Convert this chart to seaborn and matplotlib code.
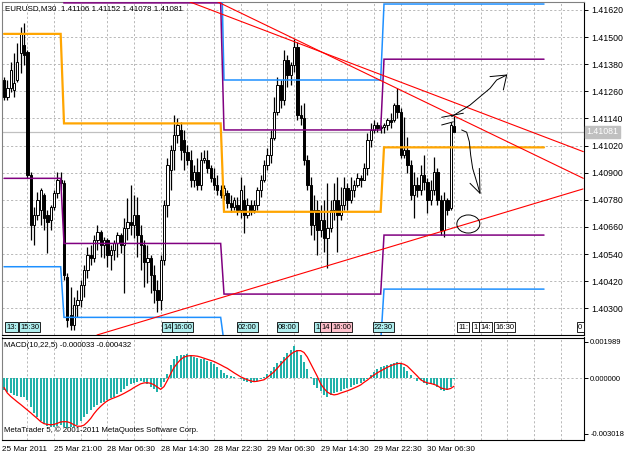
import numpy as np
import matplotlib
matplotlib.use("Agg")
import matplotlib.pyplot as plt
import matplotlib.transforms as mtransforms
from matplotlib.patches import Ellipse
import seaborn as sns

# ---------------- data ----------------
# EURUSD M30 candles, prices given in points above 1.40000 (5-digit quotes)
bar_index = list(range(136))
open_pts = [1310,1235,1275,1266,1310,1429,1465,1434,890,668,
            713,735,801,713,690,748,810,868,854,438,
            270,226,314,337,403,469,536,522,602,637,
            580,602,536,558,589,624,580,655,682,668,
            713,624,580,505,522,447,381,337,513,757,
            912,1000,1067,1089,1045,991,956,868,903,845,
            956,956,921,876,845,823,801,810,766,748,
            757,735,779,713,757,735,757,823,868,934,
            978,1053,1168,1288,1222,1399,1332,1376,1456,1155,
            1142,956,845,668,735,646,690,611,655,735,
            779,713,757,832,779,823,845,876,868,921,
            1045,1089,1111,1098,1102,1111,1133,1133,1199,1168,
            978,1000,934,801,845,823,890,859,779,823,
            903,779,646,779,744,1106]
high_pts = [1323,1310,1390,1429,1474,1545,1562,1443,903,748,
            814,832,810,735,757,823,903,903,868,456,
            394,350,381,425,491,571,580,624,668,646,
            615,611,580,602,637,633,699,788,845,801,
            792,668,602,580,536,491,425,536,779,965,
            1022,1155,1142,1124,1089,1022,1000,934,965,991,
            1000,1000,934,921,890,845,845,823,801,792,
            792,881,845,788,779,779,836,890,956,1009,
            1089,1235,1323,1310,1443,1421,1390,1491,1478,1199,
            1208,978,881,801,779,757,779,854,779,854,
            881,836,881,854,881,868,898,890,943,1076,
            1120,1133,1124,1111,1120,1142,1164,1208,1275,1186,
            1146,1058,956,903,881,934,978,876,868,969,
            921,801,814,788,1124,1152]
low_pts = [1222,1222,1257,1235,1301,1341,1376,876,602,580,
           690,668,646,545,646,735,788,823,425,217,
           204,204,261,306,350,434,491,505,558,527,
           522,482,469,513,527,545,367,602,624,611,
           527,469,394,412,367,323,283,292,491,704,
           823,912,1031,956,912,934,836,836,823,823,
           943,898,859,823,801,788,779,744,726,735,
           713,699,633,699,713,722,735,792,859,912,
           943,1045,1155,1186,1199,1279,1288,1345,1133,1111,
           934,823,624,602,536,615,549,478,637,690,
           549,690,735,735,766,792,836,836,868,890,
           1014,1076,1080,1076,1076,1089,1098,1124,1142,965,
           965,898,779,699,792,801,823,722,757,801,
           757,624,615,713,735,1078]
close_pts = [1235,1275,1354,1297,1390,1518,1421,890,668,713,
             779,823,699,682,748,810,868,854,447,248,
             226,314,337,403,469,536,522,602,637,580,
             602,536,558,589,624,580,655,682,668,713,
             624,580,505,522,447,381,337,513,757,934,
             1000,1067,1111,1000,991,956,868,903,845,956,
             965,921,876,845,823,801,832,766,748,779,
             735,823,713,757,735,757,823,868,934,978,
             1053,1168,1288,1222,1399,1332,1376,1456,1155,1142,
             956,845,668,735,646,690,611,655,735,779,
             713,757,832,779,823,845,876,868,921,1045,
             1089,1111,1098,1102,1111,1133,1124,1199,1168,978,
             1000,934,801,845,823,890,859,779,823,903,
             779,646,779,735,1111,1081]

# MACD(10,22,5): main (histogram) and signal line
macd_main = [-0.00063,-0.00072,-0.00081,-0.00090,-0.00096,-0.00099,-0.00099,-0.00118,-0.00154,-0.00186,
             -0.00212,-0.00230,-0.00248,-0.00259,-0.00262,-0.00262,-0.00259,-0.00255,-0.00266,-0.00271,
             -0.00262,-0.00266,-0.00253,-0.00230,-0.00212,-0.00193,-0.00172,-0.00157,-0.00146,-0.00136,
             -0.00127,-0.00118,-0.00108,-0.00099,-0.00085,-0.00074,-0.00060,-0.00042,-0.00031,-0.00024,
             -0.00018,-0.00013,-0.00018,-0.00031,-0.00045,-0.00060,-0.00072,-0.00049,-0.00018,0.00024,
             0.00072,0.00103,0.00121,0.00128,0.00128,0.00132,0.00125,0.00118,0.00110,0.00107,
             0.00103,0.00096,0.00089,0.00078,0.00060,0.00045,0.00031,0.00020,0.00013,0.00007,
             0.00002,-0.00005,-0.00013,-0.00020,-0.00024,-0.00020,-0.00013,-0.00005,0.00009,0.00024,
             0.00042,0.00060,0.00081,0.00092,0.00118,0.00136,0.00154,0.00175,0.00154,0.00125,
             0.00089,0.00049,0.00005,-0.00036,-0.00054,-0.00067,-0.00090,-0.00099,-0.00092,-0.00081,
             -0.00074,-0.00067,-0.00060,-0.00054,-0.00045,-0.00038,-0.00031,-0.00024,-0.00016,-0.00005,
             0.00018,0.00036,0.00052,0.00063,0.00069,0.00074,0.00078,0.00081,0.00087,0.00081,
             0.00063,0.00042,0.00018,0.00000,-0.00013,-0.00009,-0.00024,-0.00036,-0.00031,-0.00038,
             -0.00045,-0.00063,-0.00071,-0.00063,-0.00049,-0.000033]
macd_signal = [-0.00050,-0.00080,-0.00098,-0.00113,-0.00128,-0.00142,-0.00157,-0.00172,-0.00187,-0.00203,
               -0.00218,-0.00235,-0.00246,-0.00250,-0.00252,-0.00250,-0.00244,-0.00237,-0.00235,-0.00236,
               -0.00242,-0.00252,-0.00260,-0.00260,-0.00254,-0.00238,-0.00218,-0.00192,-0.00170,-0.00152,
               -0.00136,-0.00122,-0.00113,-0.00106,-0.00099,-0.00091,-0.00082,-0.00072,-0.00062,-0.00050,
               -0.00040,-0.00030,-0.00025,-0.00024,-0.00027,-0.00035,-0.00048,-0.00060,-0.00045,-0.00012,
               0.00025,0.00058,0.00082,0.00102,0.00115,0.00121,0.00123,0.00122,0.00120,0.00115,
               0.00109,0.00103,0.00097,0.00091,0.00082,0.00073,0.00063,0.00054,0.00042,0.00030,
               0.00019,0.00008,0.00000,-0.00008,-0.00014,-0.00018,-0.00016,-0.00012,-0.00008,0.00005,
               0.00020,0.00035,0.00055,0.00075,0.00095,0.00113,0.00130,0.00143,0.00150,0.00150,
               0.00140,0.00115,0.00080,0.00045,0.00010,-0.00030,-0.00055,-0.00075,-0.00085,-0.00090,
               -0.00087,-0.00080,-0.00074,-0.00068,-0.00061,-0.00053,-0.00045,-0.00036,-0.00022,-0.00010,
               0.00005,0.00018,0.00030,0.00040,0.00050,0.00060,0.00068,0.00075,0.00080,0.00081,
               0.00076,0.00066,0.00048,0.00030,0.00012,-0.00008,-0.00018,-0.00025,-0.00028,-0.00033,
               -0.00040,-0.00052,-0.00057,-0.00060,-0.00055,-0.000432]

# daily pivot levels (points above 1.40000), one value per trading day
day_first_bar = [0, 18, 66, 114]
day_last_bar = [17, 65, 113, 162]
pivot_pts = [1514, 1118, 727, 1012]
r1_pts = [2150, 1651, 1089, 1402]
s1_pts = [875, 587, 363, 624]
r2_pts = [2540, 1980, 1310, 1646]
s2_pts = [484, 260, 150, 385]

# trend lines: (bar, points)
trend_upper = [(55.8, 1655), (173.8, 993)]
trend_fan = [(64.2, 1655), (173.8, 875)]
trend_support = [(27.9, 182), (173.7, 828)]

current_pts = 1081
price_ticks = ["1.41620", "1.41500", "1.41380", "1.41260", "1.41140", "1.41020",
               "1.40900", "1.40780", "1.40660", "1.40540", "1.40420", "1.40300"]
macd_ticks = ["0.001989", "0.000000", "-0.003018"]
time_ticks = [-0.5, 15, 31, 47, 63, 79, 95, 111, 127]
time_labels = ["25 Mar 2011", "25 Mar 21:00", "28 Mar 06:30", "28 Mar 14:30", "28 Mar 22:30",
               "29 Mar 06:30", "29 Mar 14:30", "29 Mar 22:30", "30 Mar 06:30"]

# object labels at the bottom of the price window
marker_labels = ["13:", "15:30", "14", "16:00", "02:00", "08:00", "1", "14", "16:00", "22:30",
                 "11:", "1", "14:", "16:30", "0"]
marker_bars = [0.6, 4.8, 47.7, 50.7, 70.2, 82.2, 93.3, 95.1, 98.4, 111.0,
               136.2, 140.7, 142.8, 147.3, 172.2]
marker_kind = ["c", "c", "c", "c", "c", "c", "c", "p", "p", "c", "w", "w", "w", "w", "w"]

# hand-drawn annotations (bar, points)
arrow_up = [(134.3, 1148), (139.8, 1199), (142.8, 1236), (145.8, 1273), (147.8, 1310), (150.8, 1332)]
arrow_up_head = [(145.8, 1325), (150.8, 1332), (149.8, 1266)]
strokes = [[(131.3, 1145), (137.8, 1163)], [(131.3, 1111), (134.8, 1125)]]
arrow_down = [(137.3, 1089), (138.8, 1079), (139.6, 1037), (140.0, 978), (140.6, 919),
              (141.8, 860), (142.8, 809)]
arrow_down_head = [(139.8, 853), (142.8, 809), (142.6, 919)]
circle_center = (139.3, 673)

# ---------------- drawing ----------------
sns.set_style("white")
plt.rcParams["font.family"] = ["Liberation Sans", "DejaVu Sans"]

def px(p):
    return 1.4 + np.asarray(p, dtype=float) / 1e5

W, H = 625, 454
fig = plt.figure(figsize=(W / 100, H / 100), dpi=100)
fig.patch.set_facecolor("white")

def rect(l, t, r, b):
    return [l / W, 1 - b / H, (r - l) / W, (b - t) / H]

ax = fig.add_axes(rect(2, 2, 584, 335))
axm = fig.add_axes(rect(2, 337.5, 584, 440))

XL = (-0.6, 174.0)
grid_col = "#B8B8B8"
dash = (0, (2.2, 2.2))

# ---- price panel ----
ax.set_xlim(*XL)
ax.set_ylim(px(182), px(1655))
for k in range(7, 175, 8):
    ax.axvline(k, color=grid_col, lw=0.7, ls=dash, zorder=0)
tick_vals = [float(t) for t in price_ticks]
for v in tick_vals:
    ax.axhline(v, color=grid_col, lw=0.7, ls=dash, zorder=0)
ax.axhline(px(current_pts), color="#C0C0C0", lw=0.9, zorder=1)

o = px(open_pts); h = px(high_pts); l = px(low_pts); c = px(close_pts)
xi = np.array(bar_index)
ax.vlines(xi, l, h, color="black", lw=0.9, zorder=2)
up = c >= o
bottoms = np.minimum(o, c)
heights = np.maximum(np.abs(c - o), 0.000015)
ax.bar(xi[up], heights[up], bottom=bottoms[up], width=0.7, color="white",
       edgecolor="black", linewidth=0.7, zorder=3)
ax.bar(xi[~up], heights[~up], bottom=bottoms[~up], width=0.7, color="black",
       edgecolor="black", linewidth=0.7, zorder=3)

def level_line(vals, color, lw):
    xs, ys = [], []
    for a, b, v in zip(day_first_bar, day_last_bar, vals):
        xs += [a, b]
        ys += [px(v), px(v)]
    ax.plot(xs, ys, color=color, lw=lw, zorder=4, solid_joinstyle="miter")

level_line(r2_pts, "#1E90FF", 1.1)
level_line(s2_pts, "#1E90FF", 1.1)
level_line(r1_pts, "#800080", 1.1)
level_line(s1_pts, "#800080", 1.1)
level_line(pivot_pts, "#FFA500", 1.6)

for tl in (trend_upper, trend_fan, trend_support):
    ax.plot([tl[0][0], tl[1][0]], [px(tl[0][1]), px(tl[1][1])], color="#FF0000", lw=0.8, zorder=5)

def poly(pts, lw=0.7):
    ax.plot([p[0] for p in pts], [px(p[1]) for p in pts], color="black", lw=lw, zorder=6)

poly(arrow_up); poly(arrow_up_head); poly(arrow_down); poly(arrow_down_head)
for s in strokes:
    poly(s)
ax.add_patch(Ellipse((circle_center[0], px(circle_center[1])), 6.9, 0.0008,
                     fill=False, ec="black", lw=0.7, zorder=6))

ax.set_yticks(tick_vals)
ax.set_yticklabels(price_ticks)
ax.yaxis.tick_right()
ax.tick_params(axis="y", direction="out", length=3, width=0.7, pad=2, labelsize=6.3, colors="black")
ax.set_xticks([])
for side, sp in ax.spines.items():
    sp.set_color("black" if side in ("right", "bottom") else "#808080")
    sp.set_linewidth(0.8)

ax.text(0.005, 0.981, "EURUSD,M30  1.41106 1.41152 1.41078 1.41081", transform=ax.transAxes,
        ha="left", va="center", fontsize=5.8, color="black")
ax.text(1.004, px(current_pts), "1.41081", transform=mtransforms.blended_transform_factory(ax.transAxes, ax.transData),
        ha="left", va="center", fontsize=6.3, color="white", clip_on=False,
        bbox=dict(boxstyle="square,pad=0.15", fc="#C0C0C0", ec="#C0C0C0"))

kind_col = {"c": "#AFEEEE", "p": "#FFC0CB", "w": "white"}
for lab, b, k in zip(marker_labels, marker_bars, marker_kind):
    ax.text(b, 0.024, lab, transform=mtransforms.blended_transform_factory(ax.transData, ax.transAxes),
            ha="left", va="center", fontsize=5.5, color="black", clip_on=False, zorder=7,
            bbox=dict(boxstyle="square,pad=0.18", fc=kind_col[k], ec="black", lw=0.6))

# ---- MACD panel ----
sns.barplot(x=bar_index, y=macd_main, native_scale=True, width=0.55, color="#20B2AA",
            saturation=1, errorbar=None, linewidth=0, ax=axm, zorder=2)
sns.lineplot(x=bar_index, y=macd_signal, color="#FF0000", lw=0.9, ax=axm, zorder=3)
axm.set_xlabel(""); axm.set_ylabel("")
axm.set_xlim(*XL)
axm.set_ylim(-0.003346, 0.002213)
for k in range(7, 175, 8):
    axm.axvline(k, color=grid_col, lw=0.7, ls=dash, zorder=0)
axm.axhline(0, color=grid_col, lw=0.7, ls=dash, zorder=0)
axm.set_yticks([float(t) for t in macd_ticks])
axm.set_yticklabels(macd_ticks)
axm.yaxis.tick_right()
axm.tick_params(axis="y", direction="out", length=3, width=0.7, pad=1.5, labelsize=5.5, colors="black")
axm.set_xticks(time_ticks)
axm.set_xticklabels(time_labels, ha="left")
axm.tick_params(axis="x", direction="out", length=3, width=0.7, pad=1.5, labelsize=5.9, colors="black")
for side, sp in axm.spines.items():
    sp.set_color("black" if side in ("right", "bottom", "top") else "#808080")
    sp.set_linewidth(0.8)
axm.text(0.004, 0.925, "MACD(10,22,5) -0.000033 -0.000432", transform=axm.transAxes,
         ha="left", va="center", fontsize=5.6, color="black")
axm.text(0.004, 0.10, "MetaTrader 5, \u00a9 2001-2011 MetaQuotes Software Corp.", transform=axm.transAxes,
         ha="left", va="center", fontsize=5.6, color="black")

fig.savefig("out.png", dpi=100, facecolor="white")
